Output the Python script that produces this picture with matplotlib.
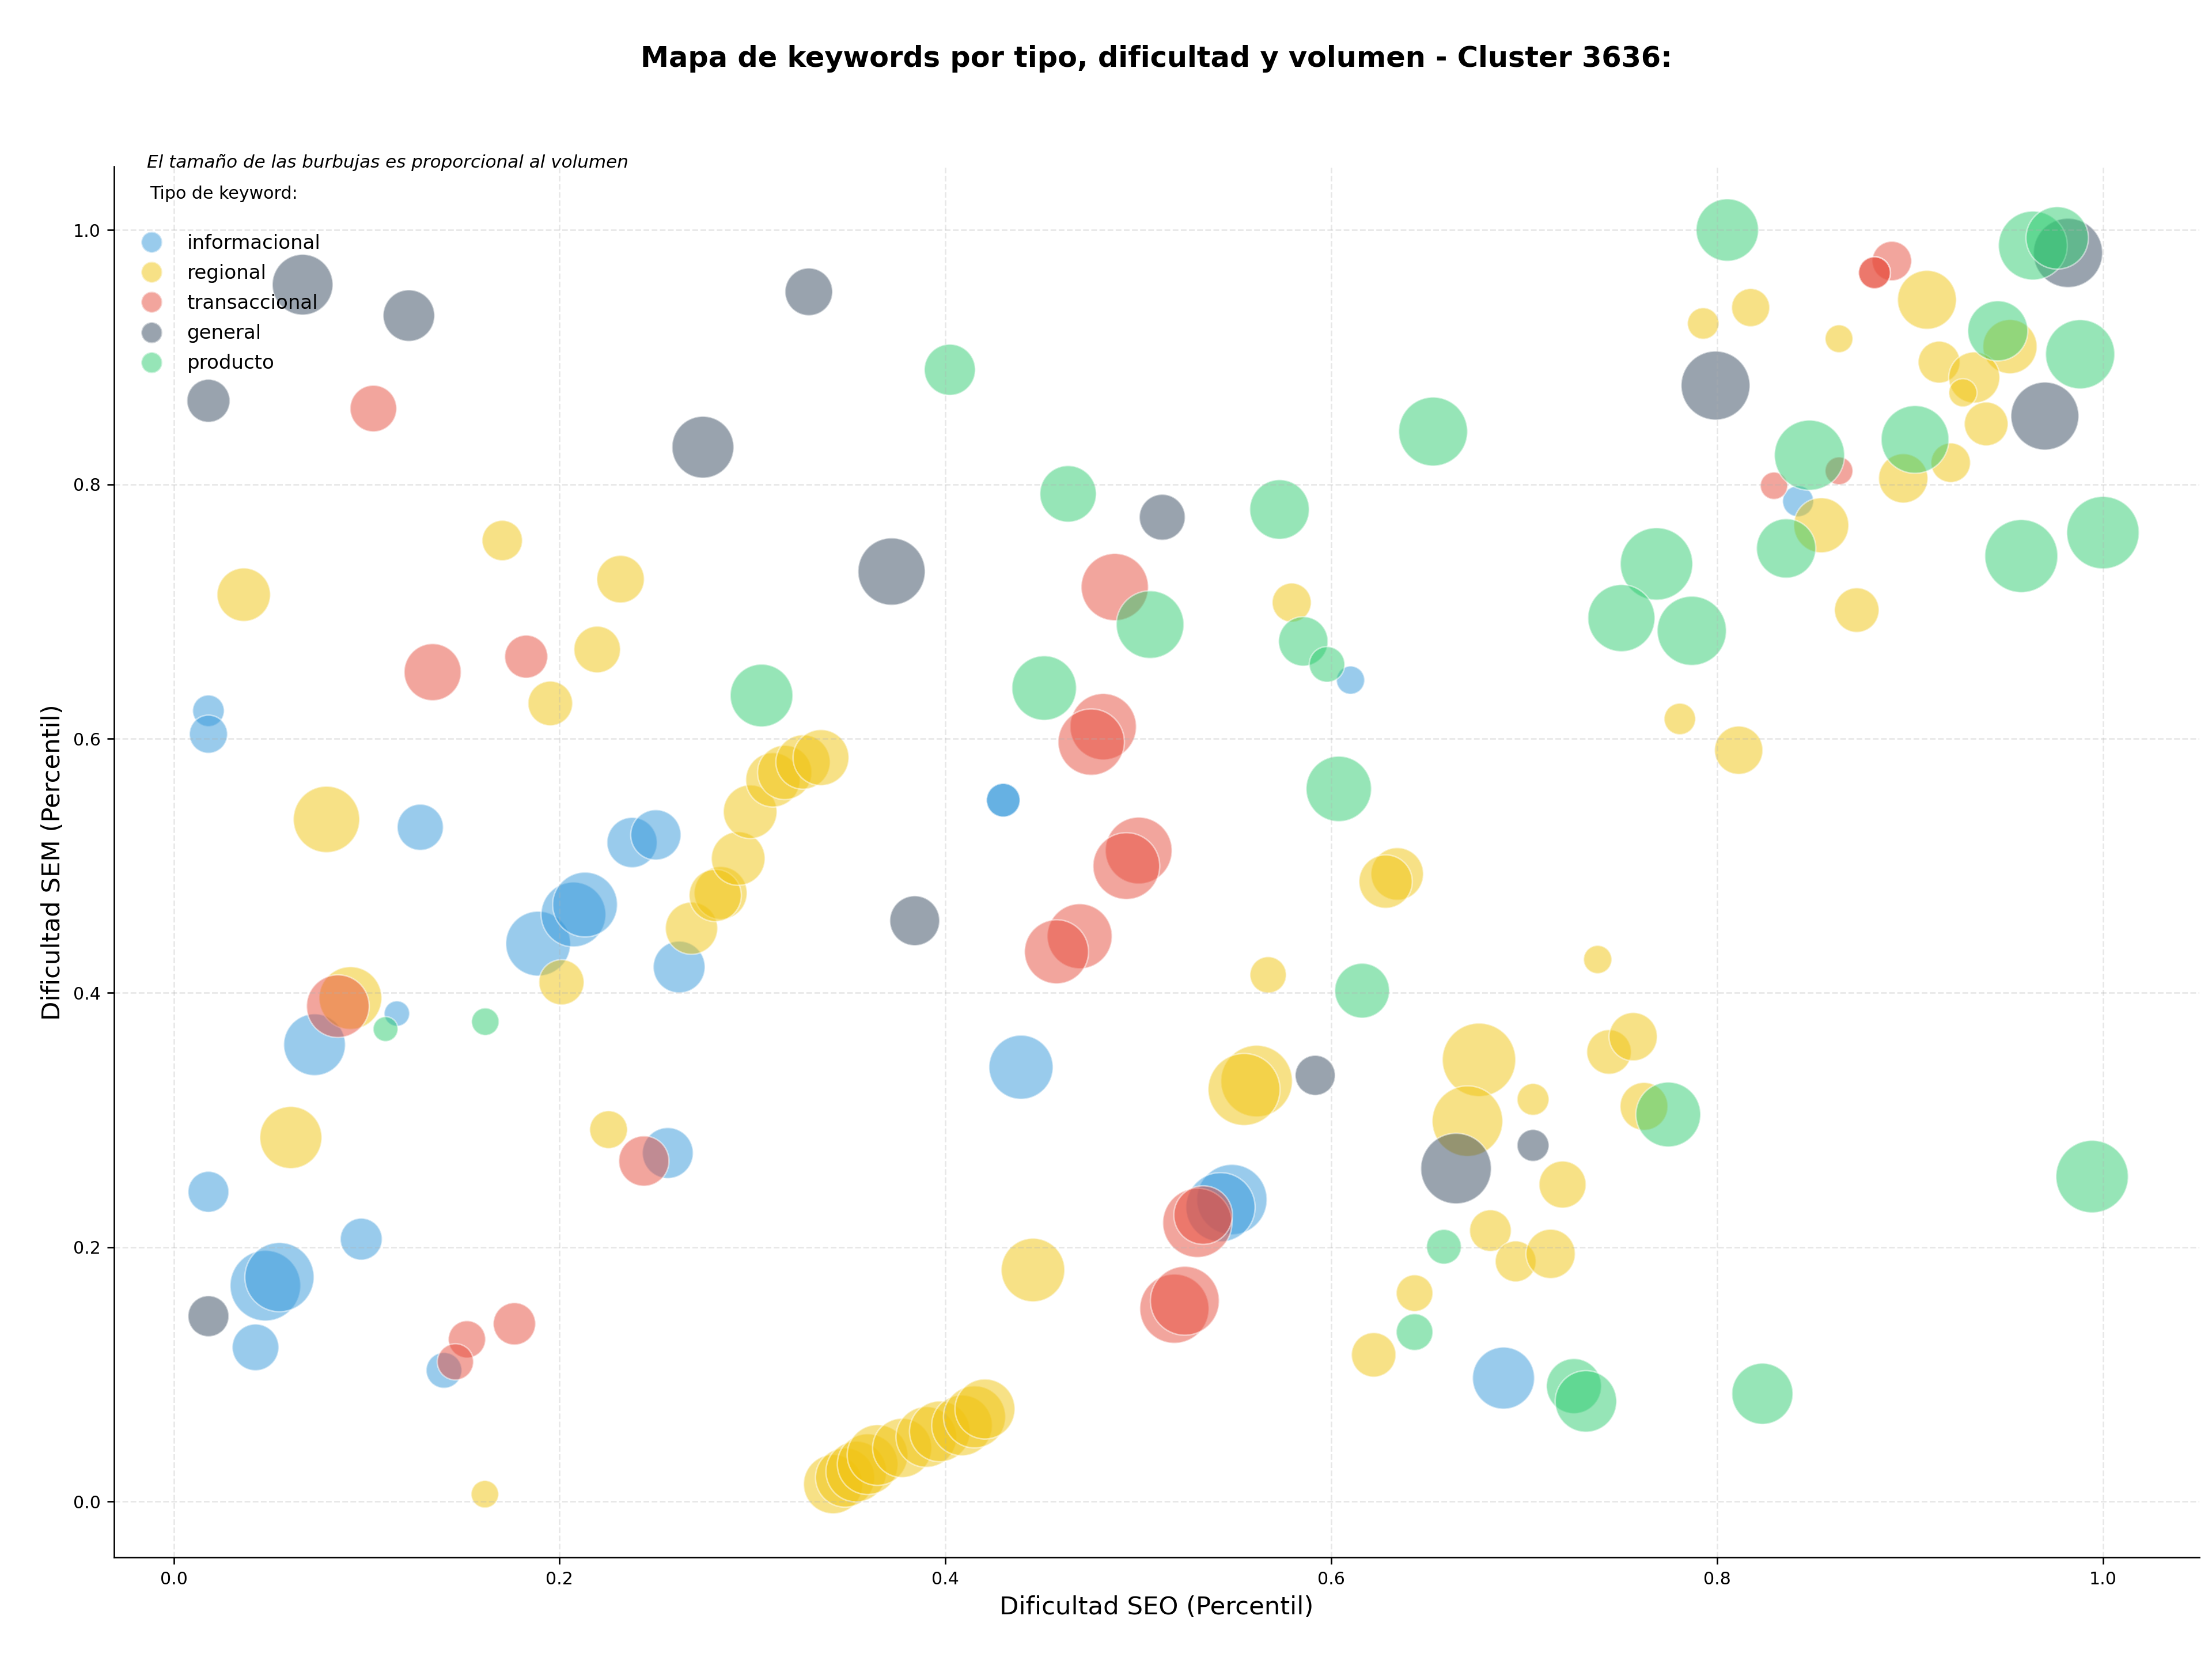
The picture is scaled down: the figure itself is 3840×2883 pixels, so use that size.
import matplotlib
matplotlib.use('Agg')
import matplotlib.pyplot as plt
from matplotlib.lines import Line2D

# Dificultad SEO (x), Dificultad SEM (y) y volumen (tamaño de burbuja) por tipo
info_seo = [0.018, 0.018, 0.1278, 0.2376, 0.2499, 0.1889, 0.2072, 0.2132, 0.262, 0.073,
            0.1157, 0.018, 0.0972, 0.0475, 0.0548, 0.0424, 0.2561, 0.1401, 0.430, 0.430,
            0.610, 0.4392, 0.5485, 0.5426, 0.842, 0.6893]
info_sem = [0.6219, 0.6035, 0.5303, 0.5183, 0.5243, 0.4388, 0.4617, 0.4695, 0.4204, 0.3593,
            0.3838, 0.2436, 0.2064, 0.1698, 0.1765, 0.1213, 0.2741, 0.1032, 0.5516, 0.5516,
            0.646, 0.3416, 0.2375, 0.2315, 0.7867, 0.0971]
info_vol = [271, 394, 577, 684, 684, 1138, 1138, 1138, 727, 1031,
            175, 454, 476, 1350, 1297, 588, 700, 346, 308, 308,
            216, 1113, 1339, 1297, 261, 1041]

reg_seo = [0.0363, 0.1703, 0.2316, 0.2195, 0.1952, 0.0792, 0.201, 0.0916, 0.0607, 0.2254,
           0.1613, 0.2684, 0.2835, 0.2807, 0.2926, 0.2988, 0.3106, 0.3167, 0.3262, 0.3355,
           0.5795, 0.6342, 0.6282, 0.5673, 0.5613, 0.5548, 0.4454,
           0.3418, 0.348, 0.3538, 0.3597, 0.3648, 0.3776, 0.3901, 0.3971, 0.4086, 0.4151, 0.4205,
           0.6766, 0.6706, 0.6432, 0.622, 0.6825, 0.6956, 0.7137, 0.7199, 0.7046, 0.7621,
           0.744, 0.7565, 0.7381, 0.7807, 0.8112, 0.7928, 0.8174, 0.8632, 0.9088, 0.9518,
           0.9151, 0.9333, 0.9274, 0.9395, 0.9211, 0.8965, 0.854, 0.8724]
reg_sem = [0.7132, 0.7558, 0.7254, 0.6701, 0.6277, 0.5365, 0.4084, 0.396, 0.2863, 0.2925,
           0.0058, 0.4509, 0.4786, 0.4767, 0.5057, 0.5425, 0.5676, 0.5734, 0.5816, 0.5851,
           0.707, 0.4936, 0.4876, 0.4142, 0.3307, 0.3241, 0.1821,
           0.0137, 0.0189, 0.0236, 0.0294, 0.0366, 0.0422, 0.0508, 0.0552, 0.0599, 0.0666, 0.0728,
           0.3474, 0.2992, 0.1639, 0.1154, 0.2131, 0.1889, 0.1948, 0.2493, 0.3163, 0.3108,
           0.3536, 0.3656, 0.4263, 0.6155, 0.5909, 0.9265, 0.939, 0.9145, 0.9451, 0.9083,
           0.8961, 0.884, 0.872, 0.8475, 0.817, 0.8047, 0.7678, 0.7011]
reg_vol = [772, 442, 613, 588, 539, 1193, 553, 1065, 1045, 388,
           205, 739, 759, 740, 780, 780, 800, 800, 800, 847,
           414, 747, 772, 359, 1388, 1404, 1094,
           950, 950, 998, 998, 998, 950, 998, 998, 998, 1045, 975,
           1460, 1350, 365, 536, 470, 454, 658, 599, 276, 621,
           539, 632, 216, 269, 632, 269, 394, 210, 939, 796,
           476, 708, 216, 519, 423, 658, 821, 539]

trans_seo = [0.1035, 0.1342, 0.1827, 0.0851, 0.2437, 0.1766, 0.152, 0.146, 0.4878, 0.4818,
             0.4756, 0.5002, 0.4938, 0.4696, 0.4576, 0.5306, 0.5336, 0.5187, 0.5241, 0.8906,
             0.8816, 0.8816, 0.8632, 0.8295]
trans_sem = [0.8596, 0.6523, 0.6645, 0.3896, 0.2678, 0.1398, 0.1276, 0.1099, 0.7192, 0.6094,
             0.5973, 0.512, 0.4998, 0.4446, 0.4324, 0.2192, 0.2253, 0.1517, 0.1579, 0.9756,
             0.9664, 0.9664, 0.8106, 0.7989]
trans_vol = [588, 881, 502, 1065, 684, 486, 376, 357, 1224, 1193,
             1193, 1208, 1208, 1143, 1113, 1297, 930, 1297, 1286, 423,
             276, 276, 210, 203]

gen_seo = [0.0668, 0.1219, 0.3292, 0.018, 0.2743, 0.5124, 0.3721, 0.3841, 0.018, 0.5917,
           0.6647, 0.7046, 0.7992, 0.9699, 0.9819]
gen_sem = [0.957, 0.9327, 0.9514, 0.8657, 0.8292, 0.7741, 0.7314, 0.4568, 0.1458, 0.3352,
           0.2619, 0.2801, 0.8777, 0.8537, 0.982]
gen_vol = [998, 719, 613, 502, 1036, 570, 1224, 673, 454, 436,
           1350, 276, 1286, 1249, 1297]

prod_seo = [0.4023, 0.6528, 0.4636, 0.5732, 0.5061, 0.5855, 0.5978, 0.4512, 0.6039, 0.3047,
            0.1098, 0.1615, 0.616, 0.6584, 0.6432, 0.7747, 0.7258, 0.732, 0.8235, 0.9944,
            0.8053, 0.9637, 0.9763, 0.9455, 0.9882, 0.9026, 0.8479, 0.8358, 0.9577, 1.0,
            0.7686, 0.7504, 0.7869]
prod_sem = [0.8901, 0.8415, 0.7925, 0.7802, 0.6897, 0.6765, 0.6584, 0.6398, 0.5605, 0.6339,
            0.3716, 0.3774, 0.4018, 0.2004, 0.1333, 0.3044, 0.0908, 0.0788, 0.0848, 0.2556,
            1.0, 0.9878, 0.9938, 0.9207, 0.9023, 0.8353, 0.8229, 0.7496, 0.7436, 0.762,
            0.7374, 0.6948, 0.6848]
prod_vol = [708, 1286, 864, 962, 1239, 662, 343, 1128, 1158, 1065,
            167, 205, 813, 327, 365, 1138, 821, 1026, 1012, 1421,
            1055, 1286, 1055, 980, 1297, 1244, 1334, 953, 1443, 1421,
            1421, 1218, 1297]

tipos = ['informacional', 'regional', 'transaccional', 'general', 'producto']
colores = ['#3498db', '#f1c40f', '#e74c3c', '#34495e', '#2ecc71']
series = [(info_seo, info_sem, info_vol), (reg_seo, reg_sem, reg_vol),
          (trans_seo, trans_sem, trans_vol), (gen_seo, gen_sem, gen_vol),
          (prod_seo, prod_sem, prod_vol)]

fig = plt.figure(figsize=(16, 12.0125), dpi=240)
ax = fig.add_axes([0.0515, 0.0623, 0.9428, 0.8375])

for tipo, color, (x, y, v) in zip(tipos, colores, series):
    ax.scatter(x, y, s=v, c=color, alpha=0.5, edgecolors='white', linewidths=0.8, label=tipo)

ax.set_xlim(-0.031, 1.05)
ax.set_ylim(-0.044, 1.05)

ax.set_title('Mapa de keywords por tipo, dificultad y volumen - Cluster 3636:',
             fontsize=14.8, fontweight='bold', pad=52)
ax.set_xlabel('Dificultad SEO (Percentil)', fontsize=13)
ax.set_ylabel('Dificultad SEM (Percentil)', fontsize=13)
ax.tick_params(labelsize=9)
ax.grid(True, linestyle='--', alpha=0.3)
ax.spines['top'].set_visible(False)
ax.spines['right'].set_visible(False)

# notas y leyenda
ax.text(0.0158, 0.9992, 'El tamaño de las burbujas es proporcional al volumen',
        transform=ax.transAxes, fontsize=9.3, style='italic', va='baseline')
ax.text(0.0172, 0.9768, 'Tipo de keyword:', transform=ax.transAxes, fontsize=9, va='baseline')

handles = [Line2D([], [], marker='o', linestyle='', markersize=11, markerfacecolor=c,
                  markeredgecolor='white', alpha=0.5) for c in colores]
ax.legend(handles, tipos, loc='upper left', bbox_to_anchor=(0.00494, 0.9570),
          borderaxespad=0, frameon=False, fontsize=10.2, labelspacing=0.56)

fig.savefig('out.png', dpi=240)
